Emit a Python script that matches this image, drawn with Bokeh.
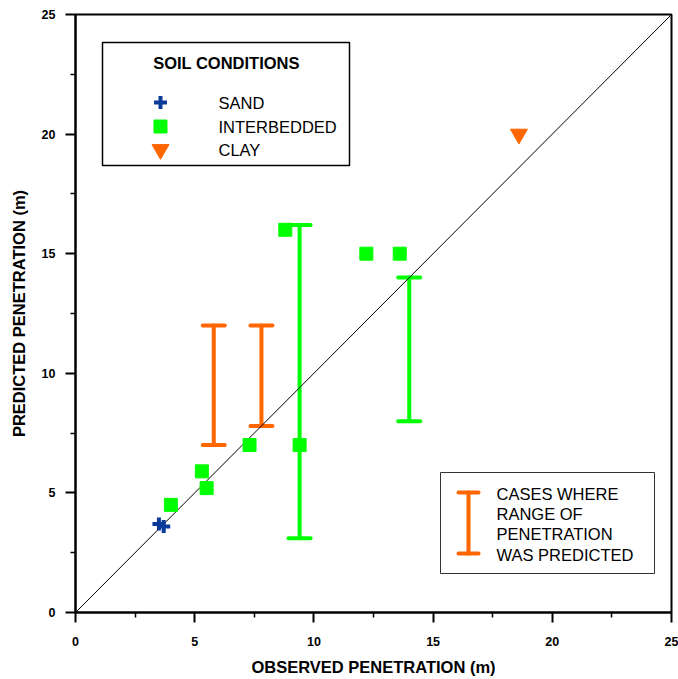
from bokeh.plotting import figure
from bokeh.models import (Range1d, FixedTicker, Whisker, TeeHead, ColumnDataSource,
                          BoxAnnotation, Label)
from bokeh.embed import file_html
from bokeh.resources import INLINE

# ---- data ----
sand_x = [3.5, 3.7]
sand_y = [3.7, 3.6]
inter_x = [4.0, 5.3, 5.5, 7.3, 9.4, 8.8, 12.2, 13.6]
inter_y = [4.5, 5.9, 5.2, 7.0, 7.0, 16.0, 15.0, 15.0]
clay_x = [18.6]
clay_y = [20.0]
orange_x = [5.8, 7.8]
orange_low = [7.0, 7.8]
orange_high = [12.0, 12.0]
green_x = [9.4, 14.0]
green_low = [3.1, 8.0]
green_high = [16.2, 14.0]
diag = [0, 25]
ticks = [0, 5, 10, 15, 20, 25]
minor = [2.5, 7.5, 12.5, 17.5, 22.5]
legend1_labels = ["SAND", "INTERBEDDED", "CLAY"]
legend2_lines = ["CASES WHERE", "RANGE OF", "PENETRATION", "WAS PREDICTED"]

BLUE = "#0A3A9A"
GREEN = "#00FF00"
ORANGE = "#FF6600"
FONT = "Liberation Sans"

W, H = 678, 679
# layout (page pixels) -> data helpers for legend decorations
FL, FR, FT, FB = 75, 671, 14, 612
def dx(px):
    return (px - FL) / (FR - FL) * 25
def dy(py):
    return (FB - py) / (FB - FT) * 25

p = figure(width=W, height=H, output_backend="svg", toolbar_location=None,
           x_range=Range1d(0, 25), y_range=Range1d(0, 25),
           min_border_left=FL, min_border_right=W - FR,
           min_border_top=FT, min_border_bottom=H - FB)
p.xgrid.visible = False
p.ygrid.visible = False
p.outline_line_color = "black"
p.outline_line_width = 2
p.outline_line_alpha = 1

for ax in (p.xaxis[0], p.yaxis[0]):
    ax.ticker = FixedTicker(ticks=ticks, minor_ticks=minor)
    ax.axis_line_width = 2
    ax.major_tick_line_width = 2
    ax.minor_tick_line_width = 1.5
    ax.major_tick_out = 10
    ax.major_tick_in = 0
    ax.minor_tick_out = 5
    ax.minor_tick_in = 0
    ax.major_label_text_font = FONT
    ax.major_label_text_font_style = "bold"
    ax.major_label_text_font_size = "12.5px"
    ax.major_label_text_color = "black"
    ax.axis_label_text_font = FONT
    ax.axis_label_text_font_style = "bold"
    ax.axis_label_text_font_size = "16.5px"
    ax.axis_label_text_color = "black"

p.xaxis.axis_label = "OBSERVED PENETRATION (m)"
p.yaxis.axis_label = "PREDICTED PENETRATION (m)"
p.xaxis.major_label_standoff = 14
p.yaxis.major_label_standoff = 10
p.xaxis.axis_label_standoff = 9
p.yaxis.axis_label_standoff = 11

# 1:1 line
p.line(diag, diag, line_color="black", line_width=1)

# range bars
osrc = ColumnDataSource(dict(x=orange_x, lo=orange_low, hi=orange_high))
gsrc = ColumnDataSource(dict(x=green_x, lo=green_low, hi=green_high))
for src, col in ((osrc, ORANGE), (gsrc, GREEN)):
    w = Whisker(source=src, base="x", lower="lo", upper="hi", dimension="height",
                line_color=col, line_width=4, line_cap="round",
                upper_head=TeeHead(size=22, line_color=col, line_width=4, line_cap="round"),
                lower_head=TeeHead(size=22, line_color=col, line_width=4, line_cap="round"))
    p.add_layout(w)

p.scatter(sand_x, sand_y, marker="cross", size=13, line_color=BLUE, line_width=4)
p.scatter(inter_x, inter_y, marker="square", size=13, fill_color=GREEN, line_color=GREEN)
p.scatter(clay_x, clay_y, marker="inverted_triangle", size=17, fill_color=ORANGE, line_color=ORANGE)

# ---- legend 1 (decoration) ----
p.add_layout(BoxAnnotation(left=dx(102), right=dx(349), bottom=dy(165), top=dy(42),
                           fill_color="white", fill_alpha=1, line_color="black",
                           line_alpha=1, line_width=1.5, level="underlay"))
p.add_layout(Label(x=dx(226), y=dy(62), text="SOIL CONDITIONS", text_align="center",
                   text_baseline="middle", text_font=FONT, text_font_style="bold",
                   text_font_size="16.5px", text_color="black"))
key_rows = [102, 126, 149]
key_x = dx(160)
p.scatter([key_x], [dy(key_rows[0])], marker="cross", size=13, line_color=BLUE, line_width=4)
p.scatter([key_x], [dy(key_rows[1])], marker="square", size=13, fill_color=GREEN, line_color=GREEN)
p.scatter([key_x], [dy(key_rows[2])], marker="inverted_triangle", size=17,
          fill_color=ORANGE, line_color=ORANGE)
for lab, row in zip(legend1_labels, key_rows):
    p.add_layout(Label(x=dx(218), y=dy(row), text=lab, text_baseline="middle",
                       text_font=FONT, text_font_size="16.5px", text_color="black"))

# ---- legend 2 (decoration) ----
p.add_layout(BoxAnnotation(left=dx(440), right=dx(654), bottom=dy(573), top=dy(472),
                           fill_color="white", fill_alpha=1, line_color="#333333",
                           line_alpha=1, line_width=1, level="underlay"))
lsrc = ColumnDataSource(dict(x=[dx(468)], lo=[dy(553)], hi=[dy(492)]))
p.add_layout(Whisker(source=lsrc, base="x", lower="lo", upper="hi", dimension="height",
                     line_color=ORANGE, line_width=4, line_cap="round",
                     upper_head=TeeHead(size=20, line_color=ORANGE, line_width=4, line_cap="round"),
                     lower_head=TeeHead(size=20, line_color=ORANGE, line_width=4, line_cap="round")))
for i, t in enumerate(legend2_lines):
    p.add_layout(Label(x=dx(496), y=dy(493 + i * 20.4), text=t, text_baseline="middle",
                       text_font=FONT, text_font_size="16.5px", text_color="black"))

open("out.html", "w").write(file_html(p, INLINE))
